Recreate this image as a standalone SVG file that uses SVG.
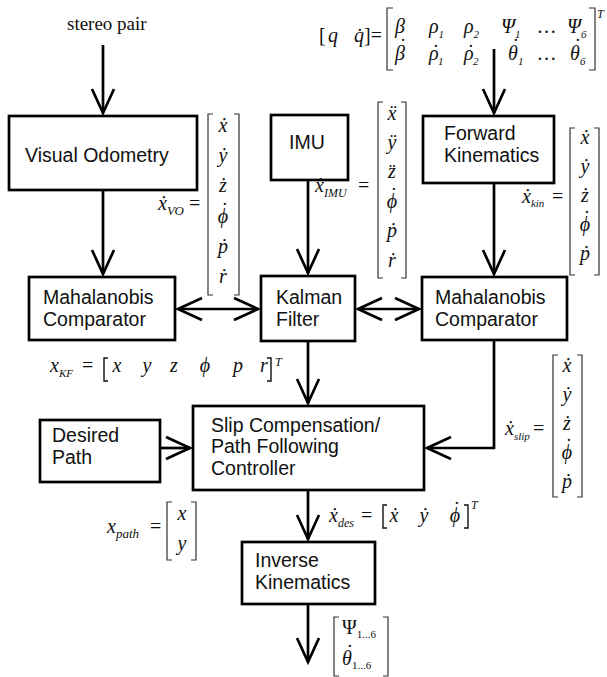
<svg xmlns="http://www.w3.org/2000/svg" width="607" height="677" viewBox="0 0 607 677">
<defs>
<style>
.box{fill:#fff;stroke:#000;stroke-width:2.7}
.lbl{font-family:"Liberation Sans",Arial,sans-serif;font-size:19.5px;fill:#111}
.m{font-family:"Liberation Serif","Times New Roman",serif;font-size:20px;font-style:italic;fill:#111}
.mu{font-family:"Liberation Serif","Times New Roman",serif;font-size:20px;fill:#111}
.s{font-size:11px}
.br{fill:none;stroke:#333;stroke-width:1.2}
.c{fill:none;stroke:#000;stroke-width:2.7}
</style>
<marker id="v" markerUnits="userSpaceOnUse" viewBox="-30 -15 34 30" refX="0" refY="0" markerWidth="34" markerHeight="30" orient="auto-start-reverse">
<path d="M-24,-11 L0,0 L-24,11" fill="none" stroke="#000" stroke-width="2.7"/>
</marker>
</defs>

<g id="connectors">
<path class="c" d="M103,45 V113" marker-end="url(#v)"/>
<path class="c" d="M103,190 V274" marker-end="url(#v)"/>
<path class="c" d="M308,180 V273" marker-end="url(#v)"/>
<path class="c" d="M494,49 V113" marker-end="url(#v)"/>
<path class="c" d="M494,183 V274" marker-end="url(#v)"/>
<path class="c" d="M178,309 H258" marker-start="url(#v)" marker-end="url(#v)"/>
<path class="c" d="M358,309 H419" marker-start="url(#v)" marker-end="url(#v)"/>
<path class="c" d="M308,341 V403" marker-end="url(#v)"/>
<path class="c" d="M160,448 H190" marker-end="url(#v)"/>
<path class="c" d="M494,340 V448 H427" marker-end="url(#v)"/>
<path class="c" d="M308,490 V539" marker-end="url(#v)"/>
<path class="c" d="M308,604 V662" marker-end="url(#v)"/>
</g>

<g id="stereo">
<text class="mu" x="67" y="30" style="font-size:19px">stereo pair</text>
</g>

<g id="visual-odometry">
<rect class="box" x="9" y="116" width="188" height="74"/>
<text class="lbl" x="25" y="162">Visual Odometry</text>
</g>

<g id="imu">
<rect class="box" x="271" y="115" width="77" height="65"/>
<text class="lbl" x="289" y="149">IMU</text>
</g>

<g id="forward-kinematics">
<rect class="box" x="423" y="116" width="131" height="67"/>
<text class="lbl" x="444" y="140">Forward</text>
<text class="lbl" x="444" y="162">Kinematics</text>
</g>

<g id="mahalanobis-left">
<rect class="box" x="29" y="277" width="146" height="63"/>
<text class="lbl" x="43" y="304">Mahalanobis</text>
<text class="lbl" x="43" y="326">Comparator</text>
</g>

<g id="kalman">
<rect class="box" x="261" y="276" width="94" height="65"/>
<text class="lbl" x="276" y="304">Kalman</text>
<text class="lbl" x="276" y="326">Filter</text>
</g>

<g id="mahalanobis-right">
<rect class="box" x="422" y="277" width="145" height="63"/>
<text class="lbl" x="435" y="304">Mahalanobis</text>
<text class="lbl" x="435" y="326">Comparator</text>
</g>

<g id="desired-path">
<rect class="box" x="40" y="420" width="120" height="62"/>
<text class="lbl" x="52" y="442">Desired</text>
<text class="lbl" x="52" y="464">Path</text>
</g>

<g id="slip-controller">
<rect class="box" x="193" y="406" width="231" height="84"/>
<text class="lbl" x="211" y="432">Slip Compensation/</text>
<text class="lbl" x="211" y="453">Path Following</text>
<text class="lbl" x="211" y="475">Controller</text>
</g>

<g id="inverse-kinematics">
<rect class="box" x="242" y="542" width="133" height="62"/>
<text class="lbl" x="255" y="567">Inverse</text>
<text class="lbl" x="255" y="589">Kinematics</text>
</g>

<g id="eq-q">
<text class="mu" x="319" y="42">[</text>
<text class="m" x="328" y="42">q</text>
<text class="m" x="354" y="42">q&#x307;</text>
<text class="mu" x="364" y="42">]=</text>
<path class="br" d="M393,8 H387 V70 H393 M589,8 H595 V70 H589"/>
<text class="m" x="597" y="18" style="font-size:12px">T</text>
<g class="m">
<text x="395" y="33">β</text>
<text x="429" y="33">ρ<tspan class="s" dy="5">1</tspan></text>
<text x="464" y="33">ρ<tspan class="s" dy="5">2</tspan></text>
<text x="501" y="33">Ψ<tspan class="s" dy="5">1</tspan></text>
<text x="538" y="33" class="mu">…</text>
<text x="567" y="33">Ψ<tspan class="s" dy="5">6</tspan></text>
<text x="395" y="60">β<tspan dx="-6.5" dy="-7">˙</tspan></text>
<text x="429" y="60">ρ<tspan dx="-7.3" dy="-1">˙</tspan><tspan class="s" dy="6">1</tspan></text>
<text x="464" y="60">ρ<tspan dx="-7.3" dy="-1">˙</tspan><tspan class="s" dy="6">2</tspan></text>
<text x="508" y="60">θ<tspan dx="-6.5" dy="-7">˙</tspan><tspan class="s" dy="12">1</tspan></text>
<text x="538" y="60" class="mu">…</text>
<text x="570" y="60">θ<tspan dx="-6.5" dy="-7">˙</tspan><tspan class="s" dy="12">6</tspan></text>
</g>
</g>

<g id="eq-vo">
<text class="m" x="158" y="210">ẋ<tspan style="font-size:13px" dy="5">VO</tspan></text>
<text class="mu" x="189" y="210">=</text>
<path class="br" d="M213,114 H208 V295 H213 M234,114 H239 V295 H234"/>
<g class="m" text-anchor="middle">
<text x="223" y="132">ẋ</text>
<text x="223" y="162">ẏ</text>
<text x="223" y="192">ż</text>
<text x="223" y="223">ϕ<tspan dx="-8" dy="-6">˙</tspan></text>
<text x="223" y="253">ṗ</text>
<text x="223" y="283">ṙ</text>
</g>
</g>

<g id="eq-imu">
<text class="m" x="315" y="192">ẋ<tspan style="font-size:12px" dy="5">IMU</tspan></text>
<text class="mu" x="358" y="192">=</text>
<path class="br" d="M383,102 H378 V278 H383 M401,102 H406 V278 H401"/>
<g class="m" text-anchor="middle">
<text x="392" y="120">x&#x308;</text>
<text x="392" y="149">ÿ</text>
<text x="392" y="178">z&#x308;</text>
<text x="392" y="208">ϕ<tspan dx="-8" dy="-6">˙</tspan></text>
<text x="392" y="237">ṗ</text>
<text x="392" y="267">ṙ</text>
</g>
</g>

<g id="eq-kin">
<text class="m" x="522" y="203">ẋ<tspan class="s" dy="4">kin</tspan></text>
<text class="mu" x="552" y="203">=</text>
<path class="br" d="M575,128 H570 V275 H575 M594,128 H599 V275 H594"/>
<g class="m" text-anchor="middle">
<text x="585" y="144">ẋ</text>
<text x="585" y="173">ẏ</text>
<text x="585" y="202">ż</text>
<text x="585" y="231">ϕ<tspan dx="-8" dy="-6">˙</tspan></text>
<text x="585" y="260">ṗ</text>
</g>
</g>

<g id="eq-kf">
<text class="m" x="50" y="372">x<tspan class="s" dy="5">KF</tspan></text>
<text class="mu" x="82" y="372">=</text>
<path class="br" d="M108,358 H104 V381 H108 M267,358 H271 V381 H267" style="stroke:#111;stroke-width:1.4"/>
<text class="m" x="275" y="366" style="font-size:12px">T</text>
<g class="m" text-anchor="middle">
<text x="117" y="372">x</text>
<text x="147" y="372">y</text>
<text x="174" y="372">z</text>
<text x="205" y="372">ϕ</text>
<text x="238" y="372">p</text>
<text x="264" y="372">r</text>
</g>
</g>

<g id="eq-slip">
<text class="m" x="505" y="435">ẋ<tspan class="s" dy="5">slip</tspan></text>
<text class="mu" x="533" y="435">=</text>
<path class="br" d="M558,355 H553 V497 H558 M577,355 H582 V497 H577"/>
<g class="m" text-anchor="middle">
<text x="567" y="372">ẋ</text>
<text x="567" y="401">ẏ</text>
<text x="567" y="430">ż</text>
<text x="567" y="459">ϕ<tspan dx="-8" dy="-6">˙</tspan></text>
<text x="567" y="488">ṗ</text>
</g>
</g>

<g id="eq-path">
<text class="m" x="107" y="533">x<tspan style="font-size:13px" dy="5">path</tspan></text>
<text class="mu" x="150" y="533">=</text>
<path class="br" d="M172,502 H167 V560 H172 M191,502 H196 V560 H191"/>
<g class="m" text-anchor="middle">
<text x="182" y="520">x</text>
<text x="182" y="550">y</text>
</g>
</g>

<g id="eq-des">
<text class="m" x="329" y="522">ẋ<tspan style="font-size:12px" dy="5">des</tspan></text>
<text class="mu" x="361" y="522">=</text>
<path class="br" d="M387,505 H383 V528 H387 M464,505 H468 V528 H464" style="stroke:#111;stroke-width:1.4"/>
<text class="m" x="471" y="509" style="font-size:12px">T</text>
<g class="m" text-anchor="middle">
<text x="394" y="522">ẋ</text>
<text x="424" y="522">ẏ</text>
<text x="455" y="522">ϕ<tspan dx="-8" dy="-6">˙</tspan></text>
</g>
</g>

<g id="eq-out">
<path class="br" d="M339,617 H334 V676 H339 M383,617 H388 V676 H383"/>
<text class="mu" x="342" y="634">Ψ<tspan class="s" dy="4">1...6</tspan></text>
<text class="m" x="342" y="665">θ<tspan dx="-6.5" dy="-6">˙</tspan><tspan class="s" dy="10" style="font-style:normal">1...6</tspan></text>
</g>
</svg>
